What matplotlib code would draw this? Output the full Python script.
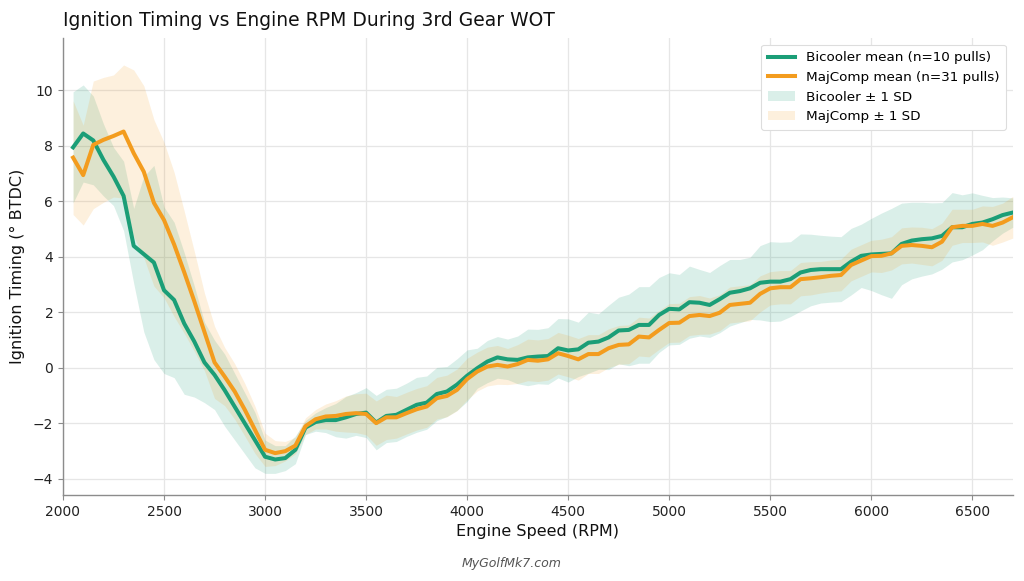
import numpy as np
import matplotlib
matplotlib.use("Agg")
import matplotlib.pyplot as plt

rpm = list(range(2050, 6701, 50))

bicooler_mean = [
    7.95, 8.45, 8.2, 7.5, 6.9, 6.2, 4.4, 4.1, 3.8, 2.8,
    2.45, 1.6, 0.95, 0.2, -0.25, -0.8, -1.4, -2.0, -2.6, -3.2,
    -3.3, -3.25, -2.95, -2.15, -1.95, -1.88, -1.88, -1.78, -1.66, -1.61,
    -1.97, -1.73, -1.69, -1.51, -1.33, -1.25, -0.94, -0.85, -0.6, -0.28,
    -0.01, 0.23, 0.38, 0.31, 0.29, 0.38, 0.41, 0.43, 0.71, 0.63,
    0.67, 0.91, 0.95, 1.1, 1.35, 1.37, 1.55, 1.55, 1.91, 2.13,
    2.11, 2.37, 2.35, 2.27, 2.48, 2.71, 2.77, 2.87, 3.07, 3.11,
    3.11, 3.2, 3.44, 3.53, 3.56, 3.56, 3.56, 3.83, 4.04, 4.09,
    4.11, 4.13, 4.47, 4.59, 4.64, 4.67, 4.76, 5.07, 5.07, 5.19,
    5.24, 5.36, 5.51, 5.6,
]

majcomp_mean = [
    7.58, 6.95, 8.04, 8.22, 8.36, 8.52, 7.74, 7.07, 5.95, 5.33,
    4.45, 3.45, 2.4, 1.3, 0.2, -0.31, -0.85, -1.51, -2.23, -2.95,
    -3.07, -3.0, -2.8, -2.1, -1.85, -1.75, -1.73, -1.66, -1.63, -1.66,
    -1.99, -1.78, -1.78, -1.63, -1.49, -1.39, -1.09, -1.01, -0.79, -0.4,
    -0.13, 0.05, 0.11, 0.05, 0.14, 0.29, 0.26, 0.31, 0.53, 0.43,
    0.31, 0.5, 0.5, 0.71, 0.83, 0.85, 1.13, 1.1, 1.37, 1.62,
    1.63, 1.87, 1.91, 1.87, 1.99, 2.27, 2.31, 2.35, 2.67, 2.87,
    2.91, 2.91, 3.2, 3.23, 3.27, 3.32, 3.35, 3.71, 3.87, 4.03,
    4.04, 4.13, 4.4, 4.43, 4.4, 4.35, 4.55, 5.07, 5.12, 5.12,
    5.19, 5.12, 5.24, 5.43,
]

bicooler_sd = [
    2.0, 1.75, 1.6, 1.3, 1.05, 1.25, 1.35, 2.8, 3.5, 3.0,
    2.8, 2.55, 2.0, 1.45, 1.25, 1.3, 1.2, 1.1, 1.0, 0.6,
    0.5, 0.45, 0.5, 0.25, 0.33, 0.45, 0.6, 0.75, 0.77, 0.9,
    0.98, 0.96, 0.96, 0.96, 0.99, 0.96, 0.96, 0.9, 0.93, 0.93,
    0.72, 0.76, 0.75, 0.73, 0.86, 1.02, 0.98, 1.02, 1.07, 1.14,
    0.98, 1.1, 1.0, 1.16, 1.2, 1.29, 1.38, 1.38, 1.35, 1.3,
    1.26, 1.3, 1.2, 1.17, 1.21, 1.2, 1.14, 1.12, 1.34, 1.44,
    1.42, 1.35, 1.39, 1.29, 1.22, 1.19, 1.17, 1.2, 1.14, 1.3,
    1.47, 1.62, 1.47, 1.38, 1.33, 1.28, 1.2, 1.25, 1.17, 1.12,
    0.98, 0.78, 0.65, 0.53,
]

majcomp_sd = [
    2.05, 1.8, 2.3, 2.25, 2.2, 2.4, 3.0, 3.1, 3.0, 2.8,
    2.6, 2.2, 1.8, 1.4, 1.3, 1.05, 1.0, 0.95, 0.85, 0.6,
    0.45, 0.35, 0.3, 0.3, 0.35, 0.45, 0.55, 0.65, 0.7, 0.75,
    0.8, 0.8, 0.75, 0.75, 0.75, 0.75, 0.75, 0.75, 0.75, 0.75,
    0.7, 0.7, 0.7, 0.65, 0.7, 0.75, 0.75, 0.75, 0.75, 0.75,
    0.75, 0.7, 0.7, 0.7, 0.7, 0.7, 0.7, 0.7, 0.7, 0.7,
    0.7, 0.7, 0.7, 0.65, 0.65, 0.65, 0.65, 0.65, 0.65, 0.6,
    0.6, 0.6, 0.6, 0.6, 0.57, 0.57, 0.57, 0.57, 0.57, 0.57,
    0.6, 0.6, 0.65, 0.65, 0.67, 0.67, 0.67, 0.65, 0.6, 0.6,
    0.65, 0.7, 0.7, 0.75,
]

x_ticks = [2000, 2500, 3000, 3500, 4000, 4500, 5000, 5500, 6000, 6500]
y_ticks = [-4, -2, 0, 2, 4, 6, 8, 10]

GREEN = "#1b9e77"
ORANGE = "#f39c1e"

x = np.array(rpm)
gm = np.array(bicooler_mean); gs = np.array(bicooler_sd)
om = np.array(majcomp_mean); osd = np.array(majcomp_sd)

fig = plt.figure(figsize=(10.24, 5.81), dpi=100)
ax = fig.add_axes([0.0615, 0.148, 0.9275, 0.787])

fb_g = ax.fill_between(x, gm - gs, gm + gs, color=GREEN, alpha=0.16, linewidth=0,
                       label="Bicooler \u00b1 1 SD")
fb_o = ax.fill_between(x, om - osd, om + osd, color=ORANGE, alpha=0.15, linewidth=0,
                       label="MajComp \u00b1 1 SD")
ln_g, = ax.plot(x, gm, color=GREEN, lw=2.9, label="Bicooler mean (n=10 pulls)")
ln_o, = ax.plot(x, om, color=ORANGE, lw=2.9, label="MajComp mean (n=31 pulls)")

ax.set_xlim(2000, 6700)
ax.set_ylim(-4.58, 11.9)
ax.set_xticks(x_ticks)
ax.set_yticks(y_ticks)
ax.grid(True, color="#e6e6e6", linewidth=0.9)
ax.set_axisbelow(True)
for s in ["top", "right"]:
    ax.spines[s].set_visible(False)
for s in ["left", "bottom"]:
    ax.spines[s].set_color("#8c8c8c")
    ax.spines[s].set_linewidth(1.0)
ax.tick_params(axis="both", labelsize=10, colors="#333333", length=3.5, color="#8c8c8c")
for lbl in ax.get_xticklabels() + ax.get_yticklabels():
    lbl.set_color("#222222")

ax.set_xlabel("Engine Speed (RPM)", fontsize=11.5, color="#111111", labelpad=4)
ax.set_ylabel("Ignition Timing (\u00b0 BTDC)", fontsize=11.5, color="#111111", labelpad=6)

fig.text(0.0615, 0.965, "Ignition Timing vs Engine RPM During 3rd Gear WOT",
         fontsize=13.5, ha="left", va="center", color="#111111")
fig.text(0.5, 0.03, "MyGolfMk7.com", fontsize=9, style="italic", color="#555555",
         ha="center", va="center")

leg = ax.legend(handles=[ln_g, ln_o, fb_g, fb_o], loc="upper right", fontsize=9.7,
                frameon=True, framealpha=1.0, edgecolor="#dddddd", handlelength=2.0,
                borderpad=0.5, labelspacing=0.5)
leg.get_frame().set_linewidth(0.8)

fig.savefig("out.png", dpi=100)
